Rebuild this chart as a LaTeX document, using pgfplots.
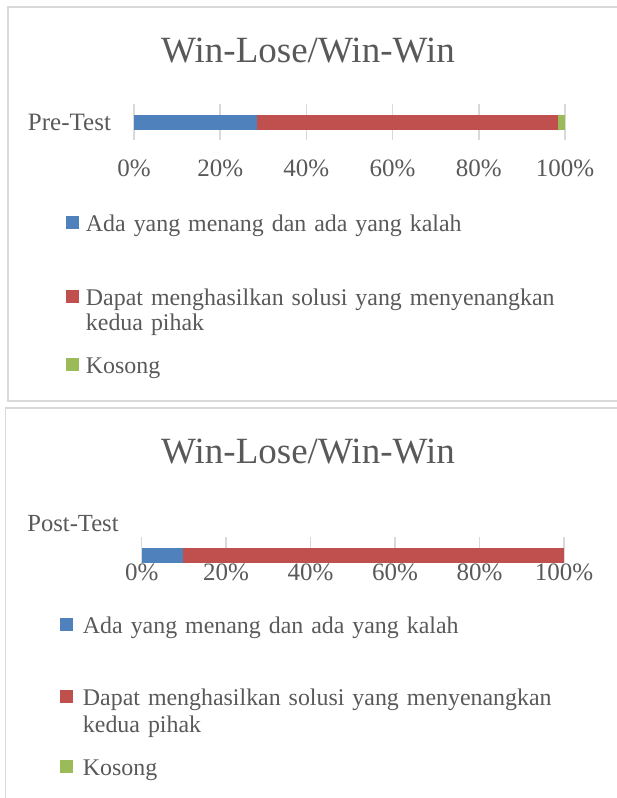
\documentclass[border=0pt]{standalone}
\usepackage{pgfplots}
\pgfplotsset{compat=1.18}
\usepackage{fontspec}
\setmainfont{Liberation Serif}
\definecolor{cblue}{HTML}{4F81BD}
\definecolor{cred}{HTML}{C0504D}
\definecolor{cgreen}{HTML}{9BBB59}
\definecolor{ctext}{HTML}{595959}
\definecolor{cgrid}{HTML}{D9D9D9}
\pgfplotsset{
 mybar/.style={
  scale only axis, xbar stacked, xmin=0, xmax=100, ymin=-1,
  axis line style={draw=none}, major tick length=0pt,
  xtick={0,20,...,100}, xticklabels={0\%,20\%,40\%,60\%,80\%,100\%},
  xmajorgrids, ymajorgrids=false, grid style={cgrid, line width=0.75pt},
  tick label style={font=\fontsize{12.5pt}{14pt}\selectfont, text=ctext},
  bar width=7.5pt,
  legend image code/.code={\fill[##1,draw=none] (0pt,1pt) rectangle (6.5pt,7.5pt);},
  legend style={anchor=north west, draw=none, fill=none, inner sep=0pt, outer sep=0pt,
    row sep=0pt,
    nodes={inner sep=0pt, text depth=, text width=265pt, align=left, text=ctext},
    cells={anchor=base west}},
 }
}
\begin{document}
\begin{tikzpicture}
\useasboundingbox (0pt,0pt) rectangle (308pt,-399pt);
\begin{scope}[x=0.5pt,y=-0.5pt]
\draw[cgrid, line width=0.75pt] (8,7) rectangle (640,401);
\draw[cgrid, line width=0.75pt] (5.5,408) rectangle (640,830);
\node[anchor=base, text=ctext, font=\fontsize{18.5pt}{20pt}\selectfont] at (308,62.5) {Win-Lose/Win-Win};
\node[anchor=base, text=ctext, font=\fontsize{18.5pt}{20pt}\selectfont] at (308,463) {Win-Lose/Win-Win};
\node[anchor=base east, text=ctext, font=\fontsize{12.3pt}{14pt}\selectfont, inner sep=0pt] at (119,531) {Post-Test};
\end{scope}

\begin{axis}[mybar, at={(67pt,-70pt)}, anchor=south west,
  width=215.5pt, height=18pt, ymax=1,
  ytick={0}, yticklabels={Pre-Test}, yticklabel style={xshift=-8pt},
  xticklabel style={yshift=-6.5pt},
  legend style={at={(axis description cs:-0.1578,-2.0278)}, column sep=3.5pt,
    font=\fontsize{11.95pt}{12.5pt}\selectfont}]
\addplot[fill=cblue, draw=none] coordinates {(28.6,0)};
\addlegendentry{\rule[-3pt]{0pt}{12pt}Ada yang menang dan ada yang kalah}
\addplot[fill=cred, draw=none] coordinates {(69.8,0)};
\addlegendentry{\rule{0pt}{34pt}Dapat menghasilkan solusi yang menyenangkan\newline kedua pihak\rule[-3pt]{0pt}{3pt}}
\addplot[fill=cgreen, draw=none] coordinates {(1.6,0)};
\addlegendentry{\rule[-3pt]{0pt}{21.5pt}Kosong}
\end{axis}

\begin{axis}[mybar, at={(70.85pt,-281.5pt)}, anchor=south west,
  width=211.15pt, height=13pt, ymax=2.47,
  ytick=\empty,
  xticklabel style={yshift=3pt},
  legend style={at={(axis description cs:-0.1935,-2.0)}, column sep=5pt,
    font=\fontsize{11.95pt}{13.5pt}\selectfont}]
\addplot[fill=cblue, draw=none] coordinates {(9.7,0)};
\addlegendentry{\rule[-3pt]{0pt}{12pt}Ada yang menang dan ada yang kalah}
\addplot[fill=cred, draw=none] coordinates {(90.3,0)};
\addlegendentry{\rule{0pt}{33pt}Dapat menghasilkan solusi yang menyenangkan\newline kedua pihak\rule[-3pt]{0pt}{3pt}}
\addplot[fill=cgreen, draw=none] coordinates {(0,0)};
\addlegendentry{\rule[-3pt]{0pt}{21.5pt}Kosong}
\end{axis}
\end{tikzpicture}
\end{document}
